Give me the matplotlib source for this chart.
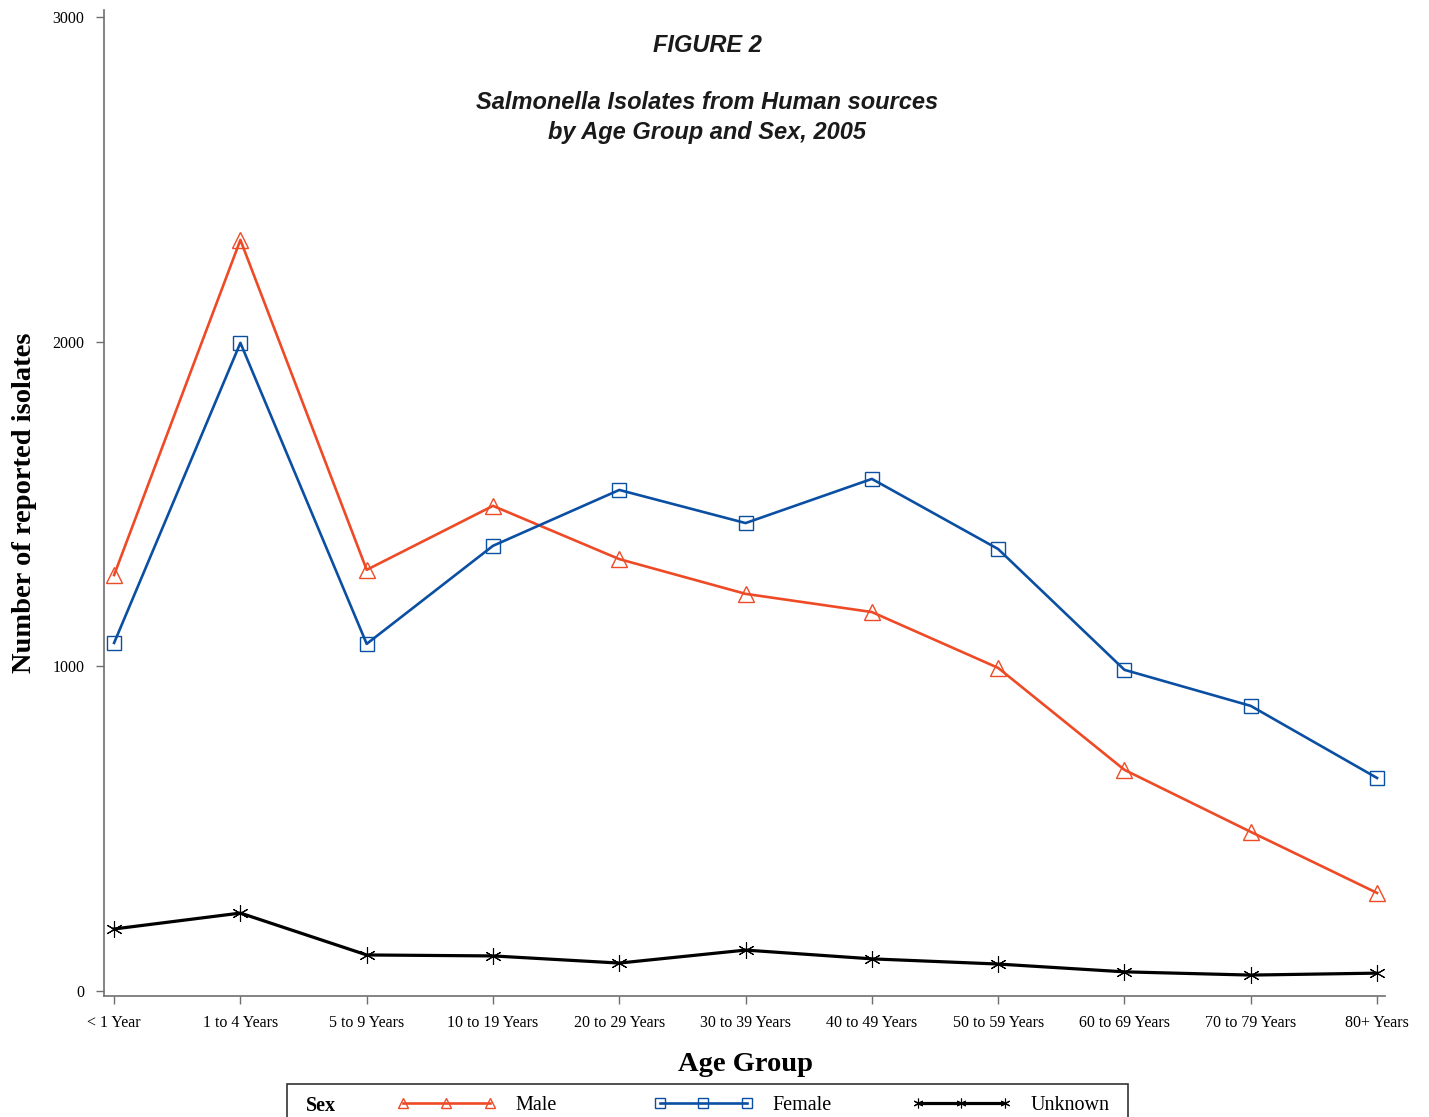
import numpy as np
import matplotlib
matplotlib.use("Agg")
import matplotlib.pyplot as plt
from matplotlib.patches import Rectangle

# ==========================================================
# DATA
# ==========================================================

age_groups = [
    "< 1 Year", "1 to 4 Years", "5 to 9 Years", "10 to 19 Years",
    "20 to 29 Years", "30 to 39 Years", "40 to 49 Years",
    "50 to 59 Years", "60 to 69 Years", "70 to 79 Years", "80+ Years"
]

male    = [1281, 2313, 1297, 1494, 1330, 1223, 1167, 995, 681, 490, 302]
female  = [1072, 1996, 1069, 1371, 1543, 1441, 1577, 1361, 989, 878, 656]
unknown = [191, 240, 111, 108, 86, 126, 99, 83, 59, 49, 55]

y_ticks = [0, 1000, 2000, 3000]

RED   = "#EE4A26"
BLUE  = "#0B4FA3"
BLACK = "#000000"
GREY  = "#6E6E6E"

SERIF = ["Liberation Serif", "DejaVu Serif"]
SANS  = ["Liberation Sans", "DejaVu Sans"]

# ==========================================================
# FIGURE
# ==========================================================

fig = plt.figure(figsize=(14.29, 11.17), dpi=100)
ax = fig.add_axes([104/1429, 121/1117, 1281/1429, 986/1117])

x = np.arange(len(age_groups))

l_male, = ax.plot(
    x, male,
    color=RED, linewidth=1.9,
    marker="^", markersize=11, markerfacecolor="none",
    markeredgecolor=RED, markeredgewidth=1.0,
    label="Male"
)

l_female, = ax.plot(
    x, female,
    color=BLUE, linewidth=1.9,
    marker="s", markersize=10, markerfacecolor="none",
    markeredgecolor=BLUE, markeredgewidth=1.0,
    label="Female"
)

l_unk, = ax.plot(
    x, unknown,
    color=BLACK, linewidth=2.3,
    marker=(6, 2, 0), markersize=12,
    markeredgewidth=0.8,
    label="Unknown"
)

# ==========================================================
# AXES
# ==========================================================

ax.set_xlim(-0.08, 10.063)
ax.set_ylim(-15.4, 3021)

ax.set_xticks(x)
ax.set_xticklabels(age_groups, family=SERIF, fontsize=11.5)
ax.set_yticks(y_ticks)
ax.set_yticklabels([str(t) for t in y_ticks], family=SERIF, fontsize=11.5)

ax.tick_params(axis="both", direction="out", length=6, width=1.0,
               color=GREY, pad=8)

for side in ["top", "right"]:
    ax.spines[side].set_visible(False)
for side in ["left", "bottom"]:
    ax.spines[side].set_color(GREY)
    ax.spines[side].set_linewidth(1.2)

ax.set_ylabel("Number of reported isolates", family=SERIF,
              fontsize=20.5, fontweight="bold")
ax.yaxis.set_label_coords(-0.052, 0.5)

ax.set_xlabel("Age Group", family=SERIF, fontsize=20.5, fontweight="bold")
ax.xaxis.set_label_coords(0.5004, -0.057)

# ==========================================================
# TITLE
# ==========================================================

fig.text(0.4948, 1 - 45/1117, "FIGURE 2", family=SANS,
         fontsize=17, fontweight="bold", style="italic",
         color="#1A1A1A", ha="center", va="center")

fig.text(0.4948, 1 - 117.5/1117,
         "Salmonella Isolates from Human sources\nby Age Group and Sex, 2005",
         family=SANS, fontsize=17, fontweight="bold", style="italic",
         color="#1A1A1A", ha="center", va="center", linespacing=1.38)

# ==========================================================
# LEGEND
# ==========================================================

fig.patches.append(Rectangle(
    (287/1429, -0.02), (1128-287)/1429, 0.02 + 33/1117,
    transform=fig.transFigure, fill=False,
    edgecolor="#333333", linewidth=1.2
))

fig.text(306/1429, 1 - 1106/1117, "Sex", family=SERIF,
         fontsize=14.5, fontweight="bold", ha="left", va="center")

# one legend entry per slot, the slots sit on a fixed grid
for handle, left in zip([l_male, l_female, l_unk], [397, 654, 912]):
    leg = fig.legend(
        handles=[handle],
        loc="center left",
        bbox_to_anchor=(left/1429, 1 - 1105/1117),
        numpoints=3, frameon=False,
        handlelength=4.9, handletextpad=1.0,
        borderpad=0, borderaxespad=0,
        prop={"family": SERIF, "size": 14.5}
    )
    for h in leg.legend_handles:
        h.set_markersize(7)

fig.savefig("out.png", dpi=100)
